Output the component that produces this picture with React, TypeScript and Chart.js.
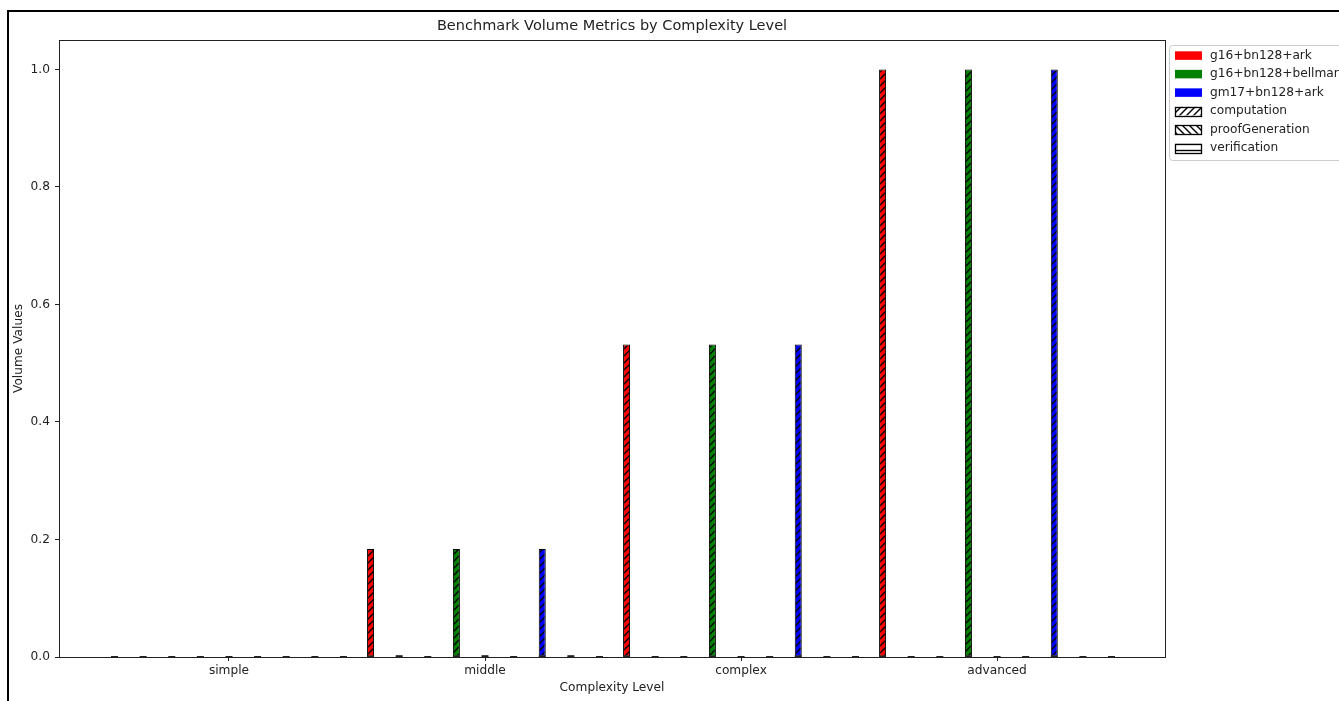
import React, { useEffect, useRef } from 'react';
import { Chart, registerables } from 'chart.js';

Chart.register(...registerables);

const categories = ['simple', 'middle', 'complex', 'advanced'];
const configs = ['g16+bn128+ark', 'g16+bn128+bellman', 'gm17+bn128+ark'];
const configColors = ['#ff0000', '#008000', '#0000ff'];
const metrics = ['computation', 'proofGeneration', 'verification'];
const hatchKinds = ['/', '\\', '-'];

const arkComputation = [0, 0.184, 0.532, 1.0];
const arkProofGeneration = [0, 0.003, 0, 0];
const arkVerification = [0, 0, 0, 0];
const bellmanComputation = [0, 0.184, 0.532, 1.0];
const bellmanProofGeneration = [0, 0.003, 0, 0];
const bellmanVerification = [0, 0, 0, 0];
const gm17Computation = [0, 0.184, 0.532, 1.0];
const gm17ProofGeneration = [0, 0.003, 0, 0];
const gm17Verification = [0, 0, 0, 0];

const yTicks = [0, 0.2, 0.4, 0.6, 0.8, 1.0];

const seriesValues = [
  [arkComputation, arkProofGeneration, arkVerification],
  [bellmanComputation, bellmanProofGeneration, bellmanVerification],
  [gm17Computation, gm17ProofGeneration, gm17Verification],
];

const FONT = 'DejaVu Sans';
const TEXT = '#222';

function makeHatch(fill: string, kind: string): CanvasPattern {
  const s = 7;
  const c = document.createElement('canvas');
  c.width = s;
  c.height = s;
  const g = c.getContext('2d')!;
  g.fillStyle = fill;
  g.fillRect(0, 0, s, s);
  g.strokeStyle = '#000';
  g.lineWidth = 1.4;
  g.beginPath();
  if (kind === '/') {
    g.moveTo(-1, s + 1); g.lineTo(s + 1, -1);
    g.moveTo(-1, 1); g.lineTo(1, -1);
    g.moveTo(s - 1, s + 1); g.lineTo(s + 1, s - 1);
  } else if (kind === '\\') {
    g.moveTo(-1, -1); g.lineTo(s + 1, s + 1);
    g.moveTo(s - 1, -1); g.lineTo(s + 1, 1);
    g.moveTo(-1, s - 1); g.lineTo(1, s + 1);
  } else {
    g.moveTo(0, s / 2); g.lineTo(s, s / 2);
  }
  g.stroke();
  return g.createPattern(c, 'repeat')!;
}

export default function App() {
  const ref = useRef<HTMLCanvasElement | null>(null);

  useEffect(() => {
    if (!ref.current) return;

    const datasets = configs.flatMap((cfg, ci) =>
      metrics.map((m, mi) => ({
        label: `${cfg} ${m}`,
        data: seriesValues[ci][mi],
        backgroundColor: makeHatch(configColors[ci], hatchKinds[mi]),
        borderColor: '#000',
        borderWidth: 1,
        borderSkipped: false as const,
        categoryPercentage: 1.006,
        barPercentage: 0.245,
      }))
    );

    const legendPatterns = hatchKinds.map((k) => makeHatch('#ffffff', k));

    const zeroEdges = {
      id: 'zeroEdges',
      afterDatasetsDraw(chart: any) {
        const ctx = chart.ctx;
        ctx.save();
        ctx.strokeStyle = '#222';
        ctx.lineWidth = 2;
        chart.data.datasets.forEach((_: any, di: number) => {
          const meta = chart.getDatasetMeta(di);
          meta.data.forEach((el: any) => {
            ctx.beginPath();
            ctx.moveTo(el.x - el.width / 2, el.base);
            ctx.lineTo(el.x + el.width / 2, el.base);
            ctx.stroke();
          });
        });
        const a = chart.chartArea;
        ctx.lineWidth = 1;
        ctx.strokeStyle = '#222';
        ctx.strokeRect(Math.round(a.left) + 0.5, Math.round(a.top) + 0.5, Math.round(a.right - a.left), Math.round(a.bottom - a.top));
        ctx.restore();
      },
    };

    const customLegend = {
      id: 'customLegend',
      afterDraw(chart: any) {
        const ctx = chart.ctx;
        ctx.save();
        const lx = 1169.5, ly = 45.5, lw = 220, lh = 115, r = 3;
        ctx.beginPath();
        ctx.moveTo(lx + r, ly);
        ctx.lineTo(lx + lw - r, ly);
        ctx.arcTo(lx + lw, ly, lx + lw, ly + r, r);
        ctx.lineTo(lx + lw, ly + lh - r);
        ctx.arcTo(lx + lw, ly + lh, lx + lw - r, ly + lh, r);
        ctx.lineTo(lx + r, ly + lh);
        ctx.arcTo(lx, ly + lh, lx, ly + lh - r, r);
        ctx.lineTo(lx, ly + r);
        ctx.arcTo(lx, ly, lx + r, ly, r);
        ctx.closePath();
        ctx.fillStyle = 'rgba(255,255,255,0.85)';
        ctx.fill();
        ctx.strokeStyle = '#cccccc';
        ctx.lineWidth = 1;
        ctx.stroke();

        ctx.font = `12.2px "${FONT}"`;
        ctx.textBaseline = 'middle';
        ctx.textAlign = 'left';
        const items = [
          ...configs.map((c, i) => ({ text: c, fill: configColors[i] as any, hatch: false })),
          ...metrics.map((m, i) => ({ text: m, fill: legendPatterns[i] as any, hatch: true })),
        ];
        items.forEach((it, i) => {
          const cy = 55.6 + i * 18.5;
          const px = 1175, pw = 27, ph = 8.5;
          const py = cy - ph / 2;
          ctx.fillStyle = it.fill;
          ctx.fillRect(px, py, pw, ph);
          if (it.hatch) {
            ctx.strokeStyle = '#000';
            ctx.lineWidth = 1.3;
            ctx.strokeRect(px + 0.5, Math.round(py) + 0.5, pw - 1, Math.round(ph));
          }
          ctx.fillStyle = TEXT;
          ctx.fillText(it.text, 1210, cy);
        });
        ctx.restore();
      },
    };

    const chart = new Chart(ref.current, {
      type: 'bar',
      data: {
        labels: categories.map((_, i) => i),
        datasets: datasets as any,
      },
      options: {
        animation: false,
        responsive: false,
        devicePixelRatio: 1,
        layout: { padding: { left: 0, right: 174, top: 0, bottom: 0 } },
        plugins: {
          legend: { display: false },
          tooltip: { enabled: false },
          title: {
            display: true,
            text: 'Benchmark Volume Metrics by Complexity Level',
            color: TEXT,
            font: { family: FONT, size: 14.5, weight: 'normal' as any },
            padding: { top: 18, bottom: 4.6 },
            fullSize: false,
          },
        },
        scales: {
          x: {
            type: 'linear',
            min: -0.664,
            max: 3.656,
            offset: false,
            afterBuildTicks: (s: any) => {
              s.ticks = categories.map((_, i) => ({ value: i }));
            },
            afterFit: (s: any) => {
              s.height = 44;
            },
            ticks: {
              callback: (v: any) => categories[v] ?? '',
              color: TEXT,
              font: { family: FONT, size: 12.2 },
              padding: 2.7,
              autoSkip: false,
              maxRotation: 0,
            },
            grid: {
              offset: false,
              drawOnChartArea: false,
              drawTicks: true,
              tickLength: 4,
              tickColor: '#222',
            },
            border: { display: true, color: '#222' },
            title: {
              display: true,
              text: 'Complexity Level',
              color: TEXT,
              font: { family: FONT, size: 12.2 },
              padding: { top: 0, bottom: 5.7 },
            },
          },
          y: {
            min: 0,
            max: 1.05,
            afterBuildTicks: (s: any) => {
              s.ticks = yTicks.map((v) => ({ value: v }));
            },
            afterFit: (s: any) => {
              s.width = 59;
            },
            ticks: {
              callback: (v: any) => Number(v).toFixed(1),
              color: TEXT,
              font: { family: FONT, size: 12.2 },
              padding: 5,
            },
            grid: {
              drawOnChartArea: false,
              drawTicks: true,
              tickLength: 4,
              tickColor: '#222',
            },
            border: { display: true, color: '#222' },
            title: {
              display: true,
              text: 'Volume Values',
              color: TEXT,
              font: { family: FONT, size: 12.2 },
              padding: { top: 11.7, bottom: 0 },
            },
          },
        },
      },
      plugins: [zeroEdges, customLegend],
    });

    return () => chart.destroy();
  }, []);

  return (
    <div style={{ position: 'fixed', left: 0, top: 0, width: 1339, height: 701, overflow: 'hidden', background: '#fff' }}>
      <div
        style={{
          position: 'absolute',
          left: 7,
          top: 10,
          width: 1400,
          height: 800,
          border: '2px solid #000',
          boxSizing: 'border-box',
        }}
      />
      <canvas
        ref={ref}
        width={1339}
        height={701}
        style={{ position: 'absolute', left: 0, top: 0, width: 1339, height: 701 }}
      />
    </div>
  );
}
